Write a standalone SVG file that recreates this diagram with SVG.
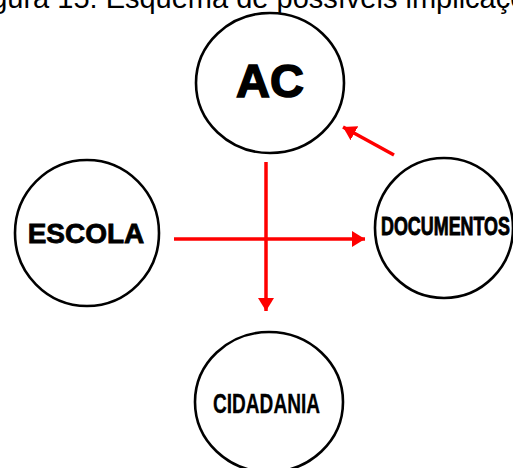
<svg xmlns="http://www.w3.org/2000/svg" width="513" height="468" viewBox="0 0 513 468">
  <defs>
    <marker id="head" markerUnits="userSpaceOnUse" markerWidth="14" markerHeight="16" refX="13" refY="8" orient="auto">
      <path d="M0,0 L13,8 L0,16 Z" fill="#ff0000"/>
    </marker>
    <style>
      .node { fill: #ffffff; stroke: #000000; stroke-width: 2.6; }
      .bold { font-family: "Liberation Sans", Arial, sans-serif; font-weight: bold; fill: #000000; text-anchor: middle; }
      .cond { font-family: "Liberation Sans", Arial, sans-serif; font-weight: bold; fill: #000000; stroke: #000000; }
      .link { stroke: #ff0000; stroke-width: 3.5; fill: none; marker-end: url(#head); }
      .caption { font-family: "Liberation Sans", Arial, sans-serif; font-size: 29px; fill: #000000; }
    </style>
  </defs>
  <rect width="513" height="468" fill="#ffffff"/>

  <text class="caption" x="-33" y="8">Figura 15: Esquema de possíveis implicações</text>

  <g id="ac">
    <ellipse class="node" cx="270" cy="83" rx="74" ry="70"/>
    <text class="bold" x="270" y="97" font-size="47" stroke="#000" stroke-width="1.5">AC</text>
  </g>

  <g id="escola">
    <ellipse class="node" cx="87" cy="233" rx="72" ry="73"/>
    <text class="bold" x="86" y="243" font-size="28" stroke="#000" stroke-width="0.8">ESCOLA</text>
  </g>

  <g id="documentos">
    <ellipse class="node" cx="444" cy="228" rx="69" ry="70"/>
    <text class="cond" x="381" y="235" font-size="25" stroke-width="0.9" textLength="129" lengthAdjust="spacingAndGlyphs">DOCUMENTOS</text>
  </g>

  <g id="cidadania">
    <ellipse class="node" cx="269" cy="402" rx="74" ry="70"/>
    <text class="cond" x="213" y="413" font-size="27" stroke-width="0.3" textLength="107" lengthAdjust="spacingAndGlyphs">CIDADANIA</text>
  </g>

  <g id="connectors">
    <line class="link" x1="266" y1="162" x2="266" y2="311"/>
    <line class="link" x1="174" y1="239" x2="365" y2="239"/>
    <line class="link" x1="394" y1="155" x2="343" y2="127"/>
  </g>
</svg>
